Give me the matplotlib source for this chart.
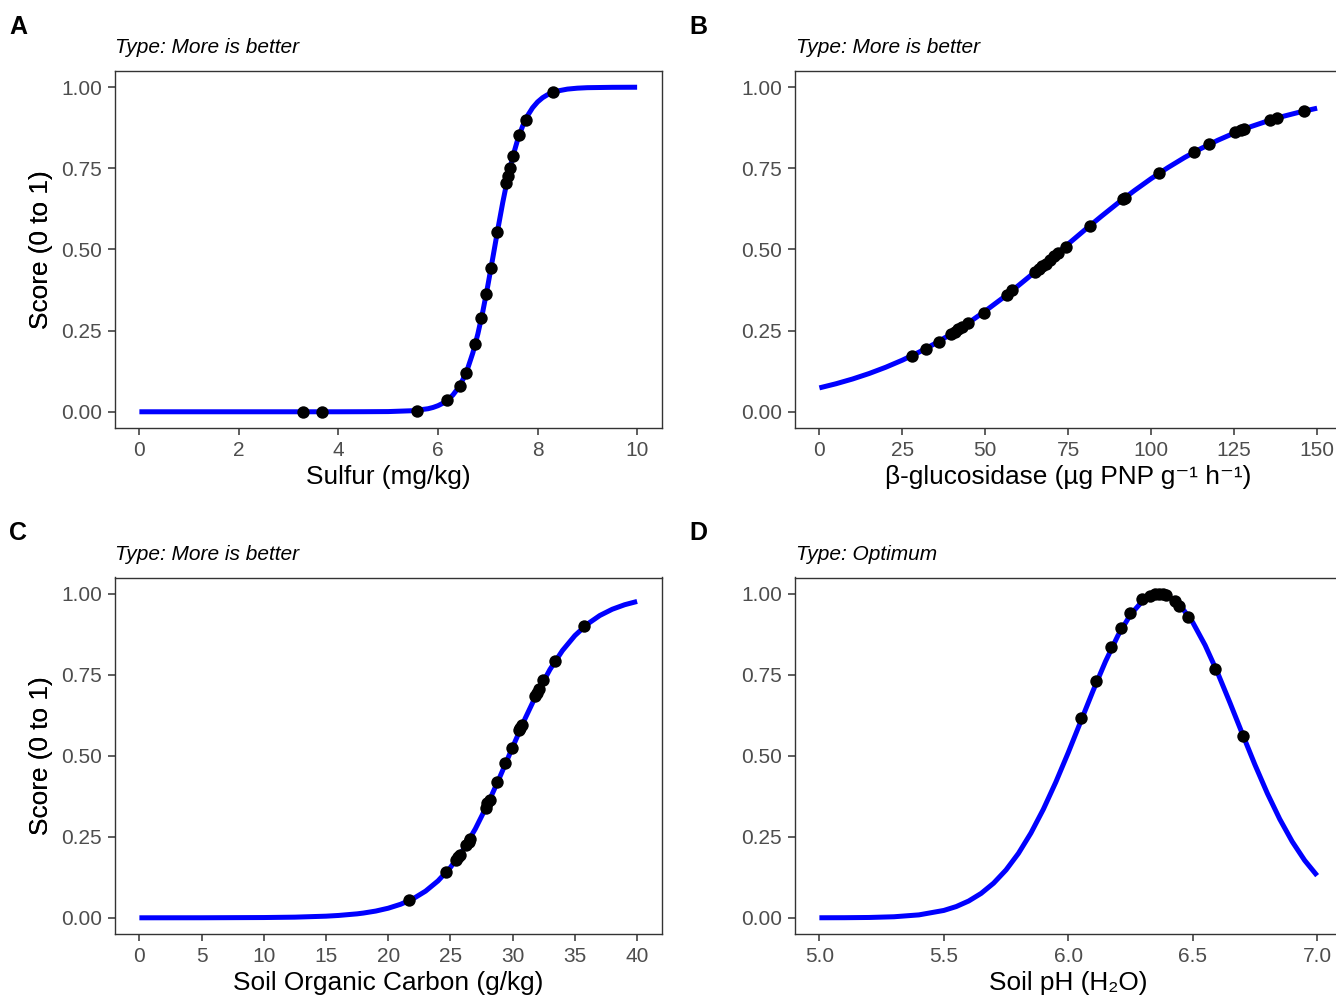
import matplotlib
matplotlib.use("Agg")
import matplotlib.pyplot as plt

plt.rcParams['font.family'] = ['Liberation Sans', 'DejaVu Sans']

# ---- data ----
# A: sulfur
sulfur_x = [3.28, 3.67, 5.57, 6.19, 6.44, 6.57, 6.74, 6.87, 6.97, 7.07, 7.18,
            7.37, 7.41, 7.45, 7.51, 7.63, 7.76, 8.32]
sulfur_y = [0.0, 0.0, 0.003, 0.035, 0.08, 0.12, 0.21, 0.29, 0.364, 0.443, 0.553,
            0.704, 0.727, 0.75, 0.788, 0.853, 0.90, 0.984]
sulfur_curve_x = [0, 1, 2, 3, 4, 4.5, 5.0, 5.5, 5.8, 5.9, 6.0, 6.1, 6.2, 6.3, 6.4,
                  6.5, 6.6, 6.7, 6.8, 6.9, 7.0, 7.1, 7.2, 7.3, 7.4, 7.5, 7.6, 7.7,
                  7.8, 7.9, 8.0, 8.1, 8.2, 8.4, 8.6, 8.8, 9.0, 9.5, 10]
sulfur_curve_y = [0, 0, 0, 0, 0.0000, 0.0002, 0.0006, 0.0033, 0.0094, 0.0133,
                  0.0188, 0.0265, 0.0372, 0.0519, 0.0721, 0.0993, 0.1353, 0.1817,
                  0.2396, 0.3090, 0.3882, 0.4738, 0.5609, 0.6445, 0.7201, 0.7850,
                  0.8383, 0.8803, 0.9126, 0.9368, 0.9546, 0.9676, 0.9769, 0.9884,
                  0.9942, 0.9971, 0.9986, 0.9997, 1.0]

# B: beta-glucosidase
bglu_x = [28.0, 32.0, 36.1, 39.8, 40.8, 41.8, 43.1, 44.9, 49.6, 56.5, 58.1, 65.0,
          66.2, 67.1, 68.2, 69.6, 70.8, 72.0, 74.2, 81.6, 91.6, 92.2, 102.4,
          112.9, 117.5, 125.4, 127.1, 128.0, 135.7, 137.9, 145.9]
bglu_y = [0.172, 0.192, 0.216, 0.241, 0.247, 0.254, 0.262, 0.274, 0.305, 0.361,
          0.374, 0.430, 0.440, 0.448, 0.456, 0.469, 0.479, 0.489, 0.509, 0.573,
          0.655, 0.660, 0.735, 0.799, 0.825, 0.861, 0.868, 0.872, 0.899, 0.905,
          0.927]
bglu_curve_x = [0, 5, 10, 15, 20, 25, 30, 35, 40, 45, 50, 55, 60, 65, 70, 75, 80,
                85, 90, 95, 100, 105, 110, 115, 120, 125, 130, 135, 140, 145, 150]
bglu_curve_y = [0.0736, 0.0863, 0.1010, 0.1179, 0.1372, 0.1590, 0.1836, 0.2110,
                0.2414, 0.2745, 0.3105, 0.3487, 0.3891, 0.4310, 0.4740, 0.5172,
                0.5604, 0.6025, 0.6434, 0.6820, 0.7185, 0.7521, 0.7831, 0.8111,
                0.8363, 0.8587, 0.8785, 0.8957, 0.9109, 0.9240, 0.9354]

# C: soil organic carbon
soc_x = [21.69, 24.61, 25.43, 25.60, 25.77, 26.22, 26.46, 26.56, 27.83, 27.96,
         28.14, 28.72, 29.40, 29.92, 30.50, 30.60, 30.74, 31.77, 31.97, 32.11,
         32.45, 33.41, 35.74]
soc_y = [0.054, 0.140, 0.179, 0.187, 0.193, 0.224, 0.234, 0.243, 0.340, 0.353,
         0.362, 0.419, 0.478, 0.524, 0.578, 0.585, 0.594, 0.683, 0.695, 0.705,
         0.734, 0.793, 0.900]
soc_curve_x = [0, 5, 10, 12.5, 15, 16, 17.5, 18, 19, 20, 21, 22, 23, 24, 25, 26,
               27, 28, 29, 30, 31, 32, 33, 34, 35, 36, 37, 38, 39, 40]
soc_curve_y = [0.0000, 0.0001, 0.0008, 0.0020, 0.0050, 0.0072, 0.0122, 0.0146,
               0.0208, 0.0296, 0.0418, 0.0588, 0.0823, 0.1139, 0.1555, 0.2088,
               0.2745, 0.3516, 0.4373, 0.5270, 0.6149, 0.6960, 0.7665, 0.8246,
               0.8708, 0.9062, 0.9327, 0.9520, 0.9660, 0.9761]

# D: soil pH
ph_x = [6.050, 6.110, 6.171, 6.212, 6.250, 6.298, 6.328, 6.349, 6.366, 6.379,
        6.391, 6.430, 6.446, 6.483, 6.591, 6.702]
ph_y = [0.618, 0.732, 0.835, 0.894, 0.940, 0.983, 0.994, 0.998, 1.000, 0.999,
        0.996, 0.977, 0.963, 0.928, 0.768, 0.561]
ph_curve_x = [5.0, 5.1, 5.2, 5.3, 5.4, 5.5, 5.55, 5.6, 5.65, 5.7, 5.75, 5.8, 5.85,
              5.9, 5.95, 6.0, 6.05, 6.1, 6.15, 6.2, 6.25, 6.3, 6.35, 6.365, 6.4,
              6.45, 6.5, 6.55, 6.6, 6.65, 6.7, 6.75, 6.8, 6.85, 6.9, 6.95, 7.0]
ph_curve_y = [0.0001, 0.0003, 0.0010, 0.0032, 0.0090, 0.0227, 0.0347, 0.0518,
              0.0753, 0.1068, 0.1476, 0.1989, 0.2615, 0.3349, 0.4185, 0.5097,
              0.6054, 0.7011, 0.7915, 0.8714, 0.9353, 0.9788, 0.9989, 1.0, 0.9938,
              0.9641, 0.9119, 0.8410, 0.7563, 0.6631, 0.5669, 0.4725, 0.3840,
              0.3043, 0.2351, 0.1771, 0.1301]

y_ticks = [0.0, 0.25, 0.5, 0.75, 1.0]
y_ticklabels = ["0.00", "0.25", "0.50", "0.75", "1.00"]

panels = [
    dict(tag="A", sub="Type: More is better", xlabel="Sulfur (mg/kg)",
         px=sulfur_x, py=sulfur_y, cx=sulfur_curve_x, cy=sulfur_curve_y,
         xlim=(-0.5, 10.5), xticks=[0, 2, 4, 6, 8, 10],
         xticklabels=["0", "2", "4", "6", "8", "10"],
         box=(114.5, 71, 662, 428)),
    dict(tag="B", sub="Type: More is better",
         xlabel="\u03b2-glucosidase (\u00b5g PNP g\u207b\u00b9 h\u207b\u00b9)",
         px=bglu_x, py=bglu_y, cx=bglu_curve_x, cy=bglu_curve_y,
         xlim=(-7.5, 157.5), xticks=[0, 25, 50, 75, 100, 125, 150],
         xticklabels=["0", "25", "50", "75", "100", "125", "150"],
         box=(794.5, 71, 1342, 428)),
    dict(tag="C", sub="Type: More is better", xlabel="Soil Organic Carbon (g/kg)",
         px=soc_x, py=soc_y, cx=soc_curve_x, cy=soc_curve_y,
         xlim=(-2, 42), xticks=[0, 5, 10, 15, 20, 25, 30, 35, 40],
         xticklabels=["0", "5", "10", "15", "20", "25", "30", "35", "40"],
         box=(114.5, 577.5, 662, 934)),
    dict(tag="D", sub="Type: Optimum", xlabel="Soil pH (H\u2082O)",
         px=ph_x, py=ph_y, cx=ph_curve_x, cy=ph_curve_y,
         xlim=(4.9, 7.1), xticks=[5.0, 5.5, 6.0, 6.5, 7.0],
         xticklabels=["5.0", "5.5", "6.0", "6.5", "7.0"],
         box=(794.5, 577.5, 1342, 934)),
]

W, H = 1336, 997
fig = plt.figure(figsize=(W / 100, H / 100), dpi=100)
fig.patch.set_facecolor("white")

for p in panels:
    l, t, r, b = p["box"]
    ax = fig.add_axes([l / W, 1 - b / H, (r - l) / W, (b - t) / H])
    ax.plot(p["cx"], p["cy"], color="#0000FF", lw=3.6, solid_capstyle="butt", zorder=2)
    ax.scatter(p["px"], p["py"], s=80, color="black", zorder=3, linewidths=0)
    ax.set_xlim(*p["xlim"])
    ax.set_ylim(-0.05, 1.05)
    ax.set_xticks(p["xticks"])
    ax.set_xticklabels(p["xticklabels"])
    ax.set_yticks(y_ticks)
    ax.set_yticklabels(y_ticklabels)
    ax.tick_params(length=4.7, width=1.1, color="#333333", labelcolor="#4D4D4D",
                   labelsize=15, pad=4.3)
    for s in ax.spines.values():
        s.set_color("#333333")
        s.set_linewidth(1.0)
    ax.set_xlabel(p["xlabel"], fontsize=18.9, color="black", va="center")
    ax.xaxis.set_label_coords(0.5, -0.137)
    ax.set_ylabel("Score (0 to 1)", fontsize=18.9, color="black", va="center")
    ax.yaxis.set_label_coords((41.5 - l) / (r - l), 0.5)
    # subtitle and tag
    fig.text((l + 1) / W, 1 - (t - 18) / H, p["sub"], fontsize=15, style="italic",
             ha="left", va="baseline")
    fig.text((l - 105) / W, 1 - (t - 37) / H, p["tag"], fontsize=18,
             fontweight="bold", ha="left", va="baseline")

fig.savefig("out.png", dpi=100)
